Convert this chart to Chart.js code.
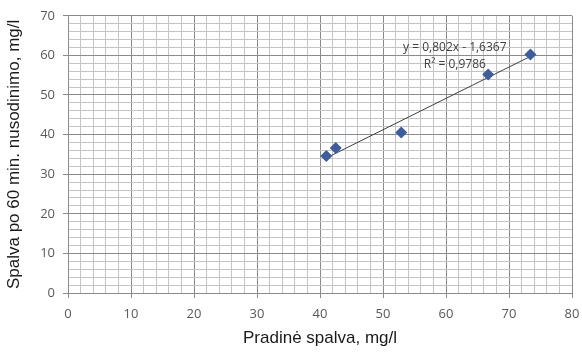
<!DOCTYPE html>
<html>
<head>
<meta charset="utf-8">
<script src="https://cdn.jsdelivr.net/npm/chart.js@4"></script>
<style>
  html, body { margin: 0; padding: 0; background: #fff; }
  #wrap { width: 582px; height: 353px; }
</style>
</head>
<body>
<div id="wrap"><canvas id="chart" width="582" height="353"></canvas></div>
<script>
const initialColor = [41.0, 42.5, 52.9, 66.7, 73.4];
const colorAfter60 = [34.6, 36.6, 40.5, 55.2, 60.2];
const xTicks = [0, 10, 20, 30, 40, 50, 60, 70, 80];
const yTicks = [0, 10, 20, 30, 40, 50, 60, 70];
const trendText = ["y = 0,802x - 1,6367", "R\u00b2 = 0,9786"];

const points = initialColor.map((x, i) => ({ x: x, y: colorAfter60[i] }));

// least squares line through the points, drawn from min x to max x
const n = points.length;
const mx = initialColor.reduce((a, b) => a + b, 0) / n;
const my = colorAfter60.reduce((a, b) => a + b, 0) / n;
let sxy = 0, sxx = 0;
points.forEach(p => { sxy += (p.x - mx) * (p.y - my); sxx += (p.x - mx) * (p.x - mx); });
const slope = sxy / sxx;
const icpt = my - slope * mx;
const xMin = Math.min(...initialColor), xMax = Math.max(...initialColor);
const trend = [{ x: xMin, y: slope * xMin + icpt }, { x: xMax, y: slope * xMax + icpt }];

const gridColor = ctx => (ctx.tick && ctx.tick.value % 10 === 0) ? "#8a8a8a" : "#c4c4c4";
const tickMarkColor = ctx => (ctx.tick && ctx.tick.value % 10 === 0) ? "#8a8a8a" : "rgba(0,0,0,0)";

const trendLabel = {
  id: "trendLabel",
  afterDatasetsDraw(chart) {
    const c = chart.ctx;
    const xs = chart.scales.x, ys = chart.scales.y;
    c.save();
    c.font = "12px 'Open Sans'";
    c.fillStyle = "#404040";
    c.textAlign = "center";
    c.textBaseline = "middle";
    c.fillText(trendText[0], xs.getPixelForValue(61.4), ys.getPixelForValue(62.0));
    c.fillText(trendText[1], xs.getPixelForValue(61.4), ys.getPixelForValue(57.6));
    c.restore();
  }
};

new Chart(document.getElementById("chart"), {
  type: "scatter",
  data: {
    datasets: [
      {
        data: trend,
        type: "line",
        borderColor: "#404040",
        borderWidth: 1,
        pointRadius: 0,
        fill: false,
        order: 2
      },
      {
        data: points,
        pointStyle: "rectRot",
        pointRadius: 6,
        backgroundColor: "#3d5d9c",
        borderColor: "#3d5d9c",
        borderWidth: 0,
        order: 1
      }
    ]
  },
  options: {
    responsive: false,
    animation: false,
    layout: { padding: { top: 15, right: 10, left: 0, bottom: 0 } },
    plugins: { legend: { display: false }, tooltip: { enabled: false } },
    scales: {
      x: {
        type: "linear",
        min: 0,
        max: 80,
        afterFit(scale) {
          scale.height = 60;
          scale.paddingRight = 0;
          scale.paddingLeft = 0;
        },
        afterBuildTicks(scale) {
          scale.ticks = [];
          for (let v = 0; v <= 80; v += 2) scale.ticks.push({ value: v });
        },
        ticks: {
          autoSkip: false,
          maxRotation: 0,
          padding: 8,
          color: "#595959",
          font: { family: "Open Sans", size: 13 },
          callback: v => xTicks.includes(v) ? String(v) : ""
        },
        grid: { color: gridColor, tickColor: tickMarkColor, tickLength: 5, lineWidth: 1 },
        border: { color: "#8a8a8a" },
        title: {
          display: true,
          text: "Pradinė spalva, mg/l",
          color: "#1a1a1a",
          font: { family: "Liberation Sans", size: 17 },
          padding: { top: 0 }
        }
      },
      y: {
        type: "linear",
        min: 0,
        max: 70,
        afterFit(scale) { scale.width = 68; },
        afterBuildTicks(scale) {
          scale.ticks = [];
          for (let v = 0; v <= 70; v += 2) scale.ticks.push({ value: v });
        },
        ticks: {
          autoSkip: false,
          padding: 8,
          color: "#595959",
          font: { family: "Open Sans", size: 13 },
          callback: v => yTicks.includes(v) ? String(v) : ""
        },
        grid: { color: gridColor, tickColor: tickMarkColor, tickLength: 5, lineWidth: 1 },
        border: { color: "#8a8a8a" },
        title: {
          display: true,
          text: "Spalva po 60 min. nusodinimo, mg/l",
          color: "#1a1a1a",
          font: { family: "Liberation Sans", size: 17 },
          padding: { bottom: 2 }
        }
      }
    }
  },
  plugins: [trendLabel]
});
</script>
</body>
</html>
